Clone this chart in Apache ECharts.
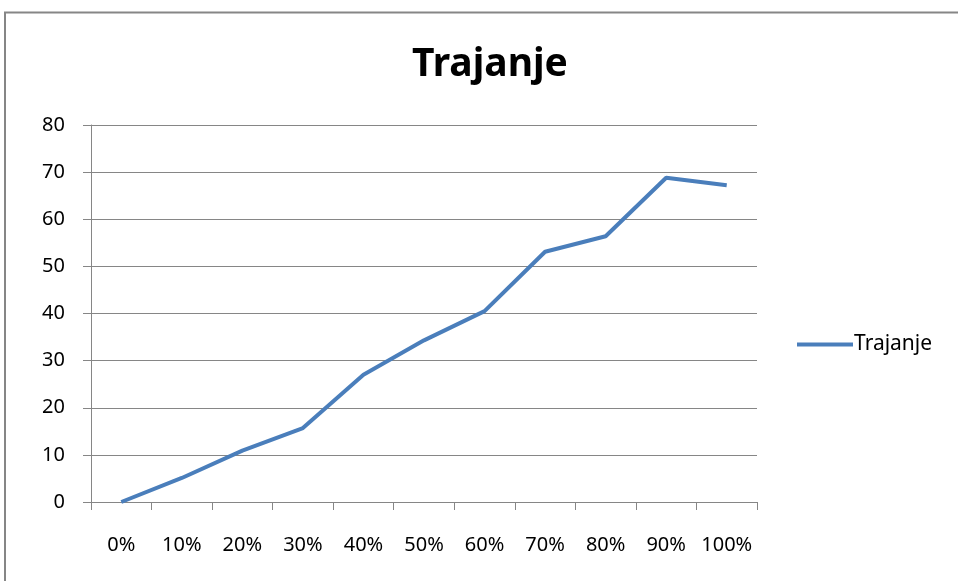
<!DOCTYPE html>
<html>
  <head>
    <meta charset="utf-8" />
    <title>Trajanje</title>
    <script src="https://cdn.jsdelivr.net/npm/echarts@6/dist/echarts.min.js"></script>
  </head>
  <body style="margin: 0">
    <div id="chart" style="width: 958px; height: 581px;"></div>
  </body>
  <script>
    var categories = ['0%', '10%', '20%', '30%', '40%', '50%', '60%', '70%', '80%', '90%', '100%']
    var trajanje = [0, 5.1, 10.9, 15.7, 27.0, 34.3, 40.5, 53.1, 56.4, 68.8, 67.2]
    var seriesName = 'Trajanje'

    var myChart = echarts.init(document.getElementById('chart'))
    var font = 'Noto Sans'
    var option = {
      animation: false,
      backgroundColor: '#fff',
      title: {
        text: 'Trajanje',
        left: 485,
        textAlign: 'center',
        top: 40,
        textStyle: { fontFamily: font, fontSize: 39, fontWeight: 'bold', color: '#000' },
      },
      graphic: [
        {
          type: 'polyline',
          shape: { points: [[5, 600], [5, 12.5], [960, 12.5]] },
          style: { stroke: '#868686', lineWidth: 2, fill: null },
        },
      ],
      legend: {
        left: 792,
        top: 329,
        itemWidth: 56,
        itemHeight: 4,
        itemGap: 4,
        icon: 'rect',
        textStyle: { fontFamily: font, fontSize: 21, color: '#000', padding: [0, 0, 0, -4] },
        data: [seriesName],
      },
      grid: { left: 91, top: 125, width: 666, height: 377 },
      xAxis: {
        type: 'category',
        data: categories,
        boundaryGap: true,
        axisLine: { lineStyle: { color: '#868686', width: 1 } },
        axisTick: { show: true, length: 8, interval: 0, lineStyle: { color: '#868686' } },
        axisLabel: { interval: 0, margin: 33, fontFamily: font, fontSize: 20, color: '#000' },
      },
      yAxis: {
        type: 'value',
        min: 0,
        max: 80,
        interval: 10,
        axisLine: { show: true, lineStyle: { color: '#868686', width: 1 } },
        axisTick: { show: true, length: 8, lineStyle: { color: '#868686' } },
        splitLine: { lineStyle: { color: '#868686', width: 1 } },
        axisLabel: { margin: 26, fontFamily: font, fontSize: 20, color: '#000' },
      },
      series: [
        {
          name: seriesName,
          type: 'line',
          data: trajanje,
          symbol: 'none',
          lineStyle: { color: '#4a7ebb', width: 4 },
          itemStyle: { color: '#4a7ebb' },
        },
      ],
    }
    option && myChart.setOption(option)
  </script>
</html>
